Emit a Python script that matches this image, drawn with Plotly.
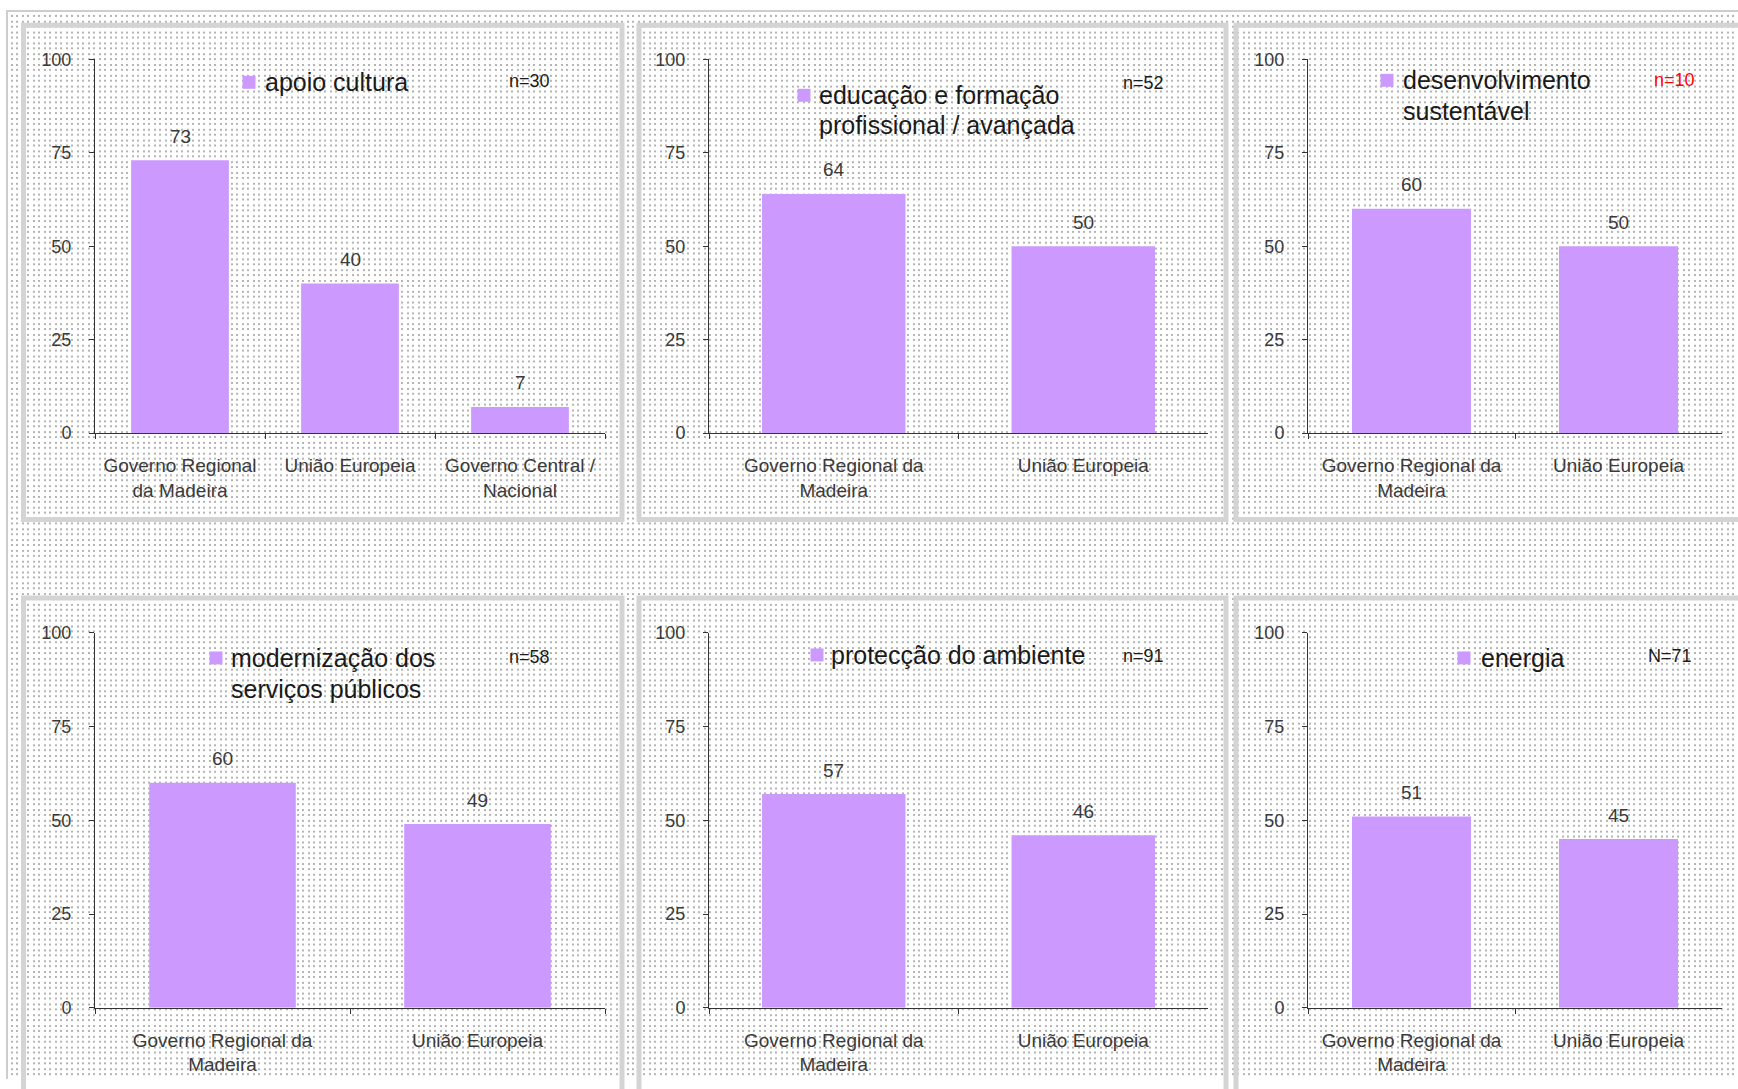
import base64
import struct
import zlib

import numpy as np
import plotly.graph_objects as go

# ---------------- data ----------------
titles = [
    "apoio cultura",
    "educação e formação<br>profissional / avançada",
    "desenvolvimento<br>sustentável",
    "modernização dos<br>serviços públicos",
    "protecção do ambiente",
    "energia",
]
n_labels = ["n=30", "n=52", "n=10", "n=58", "n=91", "N=71"]
n_colors = ["#1a1a1a", "#1a1a1a", "#ff0000", "#1a1a1a", "#1a1a1a", "#1a1a1a"]

cats_three = ["Governo Regional<br>da Madeira", "União Europeia", "Governo Central /<br>Nacional"]
cats_two = ["Governo Regional da<br>Madeira", "União Europeia"]
categories = [cats_three, cats_two, cats_two, cats_two, cats_two, cats_two]

values_apoio = [73, 40, 7]
values_educacao = [64, 50]
values_desenvolvimento = [60, 50]
values_modernizacao = [60, 49]
values_ambiente = [57, 46]
values_energia = [51, 45]
values = [values_apoio, values_educacao, values_desenvolvimento,
          values_modernizacao, values_ambiente, values_energia]

y_ticks = [0, 25, 50, 75, 100]

# ---------------- layout constants (pixels) ----------------
W, H = 1738, 1089
BAR_COLOR = "#cc99ff"
AXIS_COLOR = "#333333"
TEXT_GRAY = "#3a3a3a"
FONT = "Liberation Sans, Arial, sans-serif"


def ypix(y):
    # vertical placement calibrated against the rendered page
    return 1.01806 * y - 9.817


def px(x):
    return x / W


def py(y):
    return 1 - ypix(y) / H


col_x = [(95, 605), (709, 1208), (1308, 1722)]
row_y = [(59, 433), (633, 1008)]  # (y=100, y=0)

# legend positions: square centre x, text left x, line centre ys
legend_pos = [
    (249, 263, [82]),
    (804, 817, [95, 125]),
    (1387, 1401, [80, 111]),
    (216, 229, [658, 689]),
    (817, 829, [655]),
    (1464, 1479, [658]),
]
n_pos = [(529, 81), (1143, 83), (1674, 80), (529, 657), (1143, 656), (1670, 656)]

# ---------------- dotted background image ----------------
img = np.full((H, W, 3), 255, np.uint8)
yy, xx = np.mgrid[0:H, 0:W]
dot_x = np.isin(xx % 11, [0, 1, 5, 6])
dot_y = np.isin(yy % 11, [0, 1, 5, 6])
mask = dot_x & dot_y & (xx >= 9) & (yy >= 3)
img[mask] = 180
img[0:2, 6:] = 205
img[0:, 6:8] = 205


def png_bytes(a):
    h, w, _ = a.shape
    raw = b"".join(b"\x00" + a[r].tobytes() for r in range(h))

    def chunk(tag, data):
        c = struct.pack(">I", len(data)) + tag + data
        return c + struct.pack(">I", zlib.crc32(tag + data) & 0xFFFFFFFF)

    return (b"\x89PNG\r\n\x1a\n"
            + chunk(b"IHDR", struct.pack(">IIBBBBB", w, h, 8, 2, 0, 0, 0))
            + chunk(b"IDAT", zlib.compress(raw, 9))
            + chunk(b"IEND", b""))


bg_uri = "data:image/png;base64," + base64.b64encode(png_bytes(img)).decode()

# ---------------- figure ----------------
fig = go.Figure()
layout = dict(
    width=W, height=H,
    margin=dict(l=0, r=0, t=0, b=0),
    paper_bgcolor="white",
    plot_bgcolor="rgba(0,0,0,0)",
    showlegend=False,
    font=dict(family=FONT, color=TEXT_GRAY, size=18),
    images=[dict(source=bg_uri, xref="paper", yref="paper", x=0, y=1,
                 sizex=1, sizey=1, xanchor="left", yanchor="top",
                 sizing="stretch", layer="below")],
)

annotations = []
shapes = []

# panel borders
border_boxes = [
    (23.5, 25, 622, 519.5), (639, 25, 1226, 519.5), (1236, 25, 1760, 519.5),
    (23.5, 598, 622, 1120), (639, 598, 1226, 1120), (1236, 598, 1760, 1120),
]
for (x0, y0, x1, y1) in border_boxes:
    shapes.append(dict(type="rect", xref="paper", yref="paper",
                       x0=px(x0), x1=px(x1), y0=py(y1), y1=py(y0),
                       line=dict(color="#d4d4d4", width=5), layer="below"))

for i in range(6):
    r, c = divmod(i, 3)
    k = "" if i == 0 else str(i + 1)
    xa, ya = "x" + k, "y" + k
    cats = categories[i]
    vals = values[i]

    fig.add_trace(go.Bar(
        x=cats, y=vals, xaxis=xa, yaxis=ya,
        marker=dict(color=BAR_COLOR, line=dict(width=0)),
        width=0.575, hoverinfo="skip",
    ))

    for cat, v in zip(cats, vals):
        annotations.append(dict(
            x=cat, y=v, xref=xa, yref=ya, text=str(v), showarrow=False,
            yanchor="middle", yshift=24,
            font=dict(size=19, color=TEXT_GRAY, family=FONT)))

    x0, x1 = col_x[c]
    ytop, ybot = row_y[r]
    layout["xaxis" + k] = dict(
        domain=[px(x0), px(x1)], anchor=ya, type="category",
        showline=True, linecolor=AXIS_COLOR, linewidth=1,
        ticks="outside", tickson="boundaries", ticklen=5, tickcolor=AXIS_COLOR,
        showgrid=False, zeroline=False, fixedrange=True,
        tickfont=dict(size=19, color=TEXT_GRAY, family=FONT),
        ticklabelstandoff=15,
    )
    layout["yaxis" + k] = dict(
        domain=[py(ybot), py(ytop)], anchor=xa, range=[0, 100],
        tickmode="array", tickvals=y_ticks, ticktext=[str(t) for t in y_ticks],
        showline=True, linecolor=AXIS_COLOR, linewidth=1,
        ticks="outside", ticklen=5, tickcolor=AXIS_COLOR,
        showgrid=False, zeroline=False, fixedrange=True,
        tickfont=dict(size=18, color=TEXT_GRAY, family=FONT),
        ticklabelstandoff=14,
    )

    # legend-like label (one annotation per text line)
    sqx, tx, line_ys = legend_pos[i]
    shapes.append(dict(type="rect", xref="paper", yref="paper",
                       x0=px(sqx - 6.5), x1=px(sqx + 6.5),
                       y0=py(line_ys[0] + 6.5), y1=py(line_ys[0] - 6.5),
                       fillcolor=BAR_COLOR, line=dict(width=0)))
    for line_text, ly in zip(titles[i].split("<br>"), line_ys):
        annotations.append(dict(
            xref="paper", yref="paper", x=px(tx), y=py(ly), text=line_text,
            xanchor="left", yanchor="middle", align="left", showarrow=False,
            font=dict(size=25, color="#1a1a1a", family=FONT)))

    nx, ny = n_pos[i]
    annotations.append(dict(
        xref="paper", yref="paper", x=px(nx), y=py(ny), text=n_labels[i],
        xanchor="center", yanchor="middle", showarrow=False,
        font=dict(size=18, color=n_colors[i], family=FONT)))

layout["annotations"] = annotations
layout["shapes"] = shapes
fig.update_layout(**layout)

fig.write_html("out.html")
